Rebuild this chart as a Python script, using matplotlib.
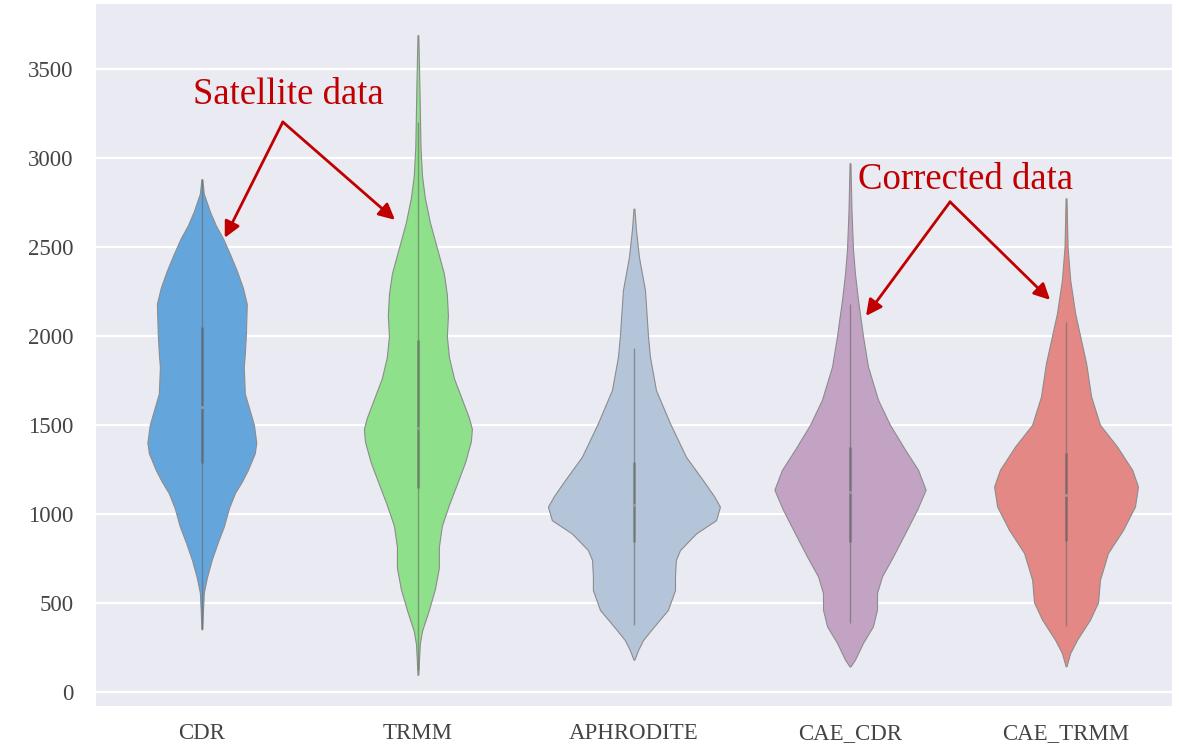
import numpy as np
import matplotlib
matplotlib.use("Agg")
import matplotlib.pyplot as plt

# Categories and colours
categories = ["CDR", "TRMM", "APHRODITE", "CAE_CDR", "CAE_TRMM"]
colors = ["#64a6dc", "#8ee08a", "#b4c5da", "#c3a3c4", "#e48886"]

# Density profiles: precipitation value and relative half-width (fraction of category spacing)
cdr_y = [2880, 2800, 2700, 2620, 2550, 2460, 2366, 2270, 2180, 2011, 1900, 1825, 1675, 1580,
         1500, 1400, 1340, 1246, 1180, 1116, 1030, 929, 840, 742, 640, 556, 450, 351]
cdr_w = [0.002, 0.009, 0.037, 0.065, 0.097, 0.130, 0.162, 0.190, 0.208, 0.204, 0.199, 0.194,
         0.199, 0.222, 0.241, 0.252, 0.245, 0.213, 0.185, 0.153, 0.125, 0.102, 0.074, 0.046,
         0.023, 0.009, 0.005, 0.002]

trmm_y = [3690, 3400, 3062, 2900, 2778, 2636, 2494, 2352, 2234, 2116, 1997, 1879, 1761, 1643,
          1540, 1477, 1406, 1288, 1169, 1051, 933, 814, 696, 578, 460, 341, 270, 180, 95]
trmm_w = [0.002, 0.007, 0.012, 0.019, 0.032, 0.056, 0.088, 0.120, 0.134, 0.139, 0.134, 0.144,
          0.167, 0.204, 0.236, 0.250, 0.245, 0.218, 0.181, 0.144, 0.111, 0.097, 0.097, 0.079,
          0.051, 0.019, 0.009, 0.005, 0.002]

aphro_y = [2715, 2600, 2444, 2257, 2000, 1882, 1695, 1508, 1320, 1189, 1100, 1040, 964, 889,
           796, 740, 650, 571, 459, 400, 346, 290, 234, 180]
aphro_w = [0.002, 0.009, 0.023, 0.051, 0.065, 0.074, 0.102, 0.167, 0.241, 0.319, 0.370, 0.398,
           0.380, 0.287, 0.213, 0.194, 0.190, 0.190, 0.157, 0.116, 0.079, 0.042, 0.019, 0.002]

caecdr_y = [2970, 2700, 2483, 2350, 2202, 2000, 1828, 1640, 1500, 1360, 1247, 1135, 1022, 891,
            760, 648, 555, 461, 367, 274, 180, 142]
caecdr_w = [0.002, 0.007, 0.014, 0.023, 0.037, 0.060, 0.083, 0.130, 0.185, 0.255, 0.315, 0.350,
            0.310, 0.255, 0.199, 0.148, 0.125, 0.125, 0.106, 0.060, 0.023, 0.002]

caetrmm_y = [2773, 2500, 2315, 2127, 2000, 1846, 1659, 1500, 1378, 1247, 1153, 1041, 910, 779,
             629, 502, 405, 292, 217, 143]
caetrmm_w = [0.002, 0.007, 0.019, 0.042, 0.065, 0.093, 0.116, 0.157, 0.236, 0.306, 0.333, 0.319,
             0.264, 0.194, 0.157, 0.148, 0.111, 0.051, 0.019, 0.002]

profile_y = [cdr_y, trmm_y, aphro_y, caecdr_y, caetrmm_y]
profile_w = [cdr_w, trmm_w, aphro_w, caecdr_w, caetrmm_w]

# Box summary: lower whisker, Q1, median, Q3, upper whisker
whisk_lo = [351, 120, 376, 386, 370]
q1 = [1284, 1146, 843, 844, 845]
median = [1600, 1480, 1049, 1120, 1107]
q3 = [2050, 1974, 1292, 1378, 1341]
whisk_hi = [2880, 3200, 1930, 2180, 2080]

plt.rcParams["font.family"] = ["Liberation Serif", "DejaVu Serif"]

fig = plt.figure(figsize=(11.79, 7.47), dpi=100)
ax = fig.add_axes([0.0814, 0.055, 0.9126, 0.9396])
ax.set_facecolor("#eaeaf2")
for s in ax.spines.values():
    s.set_visible(False)
ax.yaxis.grid(True, color="white", linewidth=1.6)
ax.set_axisbelow(True)

positions = np.arange(len(categories))
vpstats = []
widths = []
for ys, ws, lo, hi, med in zip(profile_y, profile_w, whisk_lo, whisk_hi, median):
    ys = np.array(ys[::-1], dtype=float)
    ws = np.array(ws[::-1], dtype=float)
    vpstats.append(dict(coords=ys, vals=ws, mean=med, median=med,
                        min=ys.min(), max=ys.max()))
    widths.append(2 * ws.max())

parts = ax.violin(vpstats, positions=positions, widths=widths,
                  showmeans=False, showextrema=False, showmedians=False)
for body, c in zip(parts["bodies"], colors):
    body.set_facecolor(c)
    body.set_alpha(1)
    body.set_edgecolor("#8c8c8c")
    body.set_linewidth(0.8)
    body.set_zorder(2)

# Inner box: whisker line, interquartile bar and median dot
ax.vlines(positions, whisk_lo, whisk_hi, colors="#666666", linewidth=1.0, alpha=0.6, zorder=3)
ax.vlines(positions, q1, q3, colors="#555555", linewidth=2.2, alpha=0.4, zorder=3)
ax.scatter(positions, median, s=5, color="#9a9a9a", zorder=4, linewidths=0)

ax.set_xlim(-0.49, 4.49)
ax.set_ylim(-80, 3865)
ax.set_yticks([0, 500, 1000, 1500, 2000, 2500, 3000, 3500])
ax.set_xticks(positions)
ax.set_xticklabels(categories)
ax.tick_params(axis="both", length=0, labelsize=16.5, labelcolor="#444444")
ax.tick_params(axis="y", pad=16)
ax.tick_params(axis="x", pad=12)

red = "#c00000"
arrow_kw = dict(arrowstyle="-|>", color=red, lw=2.0, mutation_scale=24,
                shrinkA=0, shrinkB=0)

ax.text(0.40, 3355, "Satellite data", color=red, fontsize=26.5,
        ha="center", va="center")
for end in [(0.106, 2551), (0.894, 2652)]:
    ax.annotate("", xy=end, xytext=(0.375, 3202), arrowprops=arrow_kw)

ax.text(3.537, 2880, "Corrected data", color=red, fontsize=26.5,
        ha="center", va="center")
for end in [(3.074, 2112), (3.926, 2202)]:
    ax.annotate("", xy=end, xytext=(3.463, 2753), arrowprops=arrow_kw)

fig.savefig("out.png", dpi=100, facecolor="white")
